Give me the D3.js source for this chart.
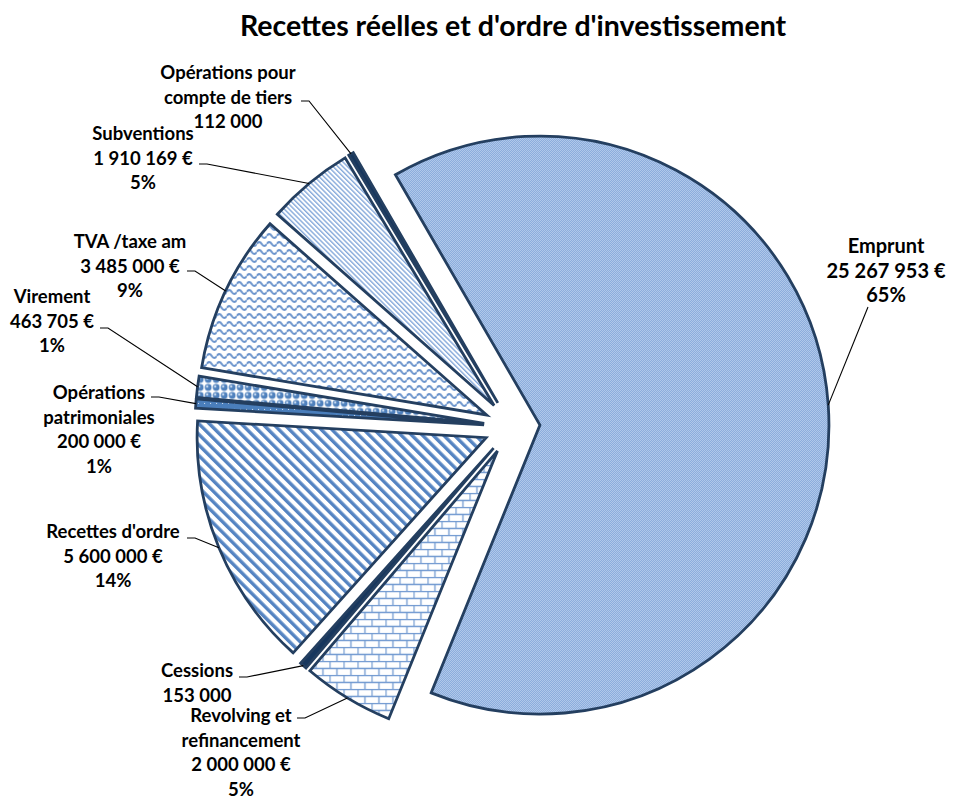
<!DOCTYPE html>
<html>
<head>
<meta charset="utf-8">
<title>Recettes réelles et d'ordre d'investissement</title>
<script src="https://d3js.org/d3.v7.min.js"></script>
<style>
  body { margin: 0; background: #fff; }
  text { font-family: Lato, "Open Sans", sans-serif; font-weight: bold; fill: #000; }
</style>
</head>
<body>
<svg id="chart" width="957" height="800"></svg>
<script>
// data
const categories = ["Emprunt", "Revolving et refinancement", "Cessions", "Recettes d'ordre",
  "Opérations patrimoniales", "Virement", "TVA /taxe am", "Subventions", "Opérations pour compte de tiers"];
const amounts = [25267953, 2000000, 153000, 5600000, 200000, 463705, 3485000, 1910169, 112000];
const labelLines = [
  ["Emprunt", "25 267 953 €", "65%"],
  ["Revolving et", "refinancement", "2 000 000 €", "5%"],
  ["Cessions", "153 000"],
  ["Recettes d'ordre", "5 600 000 €", "14%"],
  ["Opérations", "patrimoniales", "200 000 €", "1%"],
  ["Virement", "463 705 €", "1%"],
  ["TVA /taxe am", "3 485 000 €", "9%"],
  ["Subventions", "1 910 169 €", "5%"],
  ["Opérations pour", "compte de tiers", "112 000"]
];
const patterns = ["checker", "brick", "dark", "wide", "dotted", "spheres", "wave", "narrow", "dark"];

// label layout: text centre x, first baseline y, leader start point
const labelPos = [
  { x: 886, y: 253, lx: 868, ly: 307, dash: false },
  { x: 241, y: 722, lx: 297, ly: 718, dash: true },
  { x: 197, y: 677, lx: 239, ly: 677, dash: true },
  { x: 113, y: 538, lx: 187, ly: 538, dash: true },
  { x: 99,  y: 399, lx: 151, ly: 397, dash: true },
  { x: 52,  y: 303, lx: 100, ly: 328, dash: true },
  { x: 130, y: 248, lx: 187, ly: 271, dash: true },
  { x: 143, y: 140, lx: 199, ly: 164, dash: true },
  { x: 228, y: 79,  lx: 301, ly: 101, dash: true }
];

const svg = d3.select("#chart");
const cx = 512, cy = 427, radius = 289, explode = 28;
const edge = "#243F60", blue = "#4F81BD";

// fill patterns
const defs = svg.append("defs");
function pat(id, w, h, rot) {
  const p = defs.append("pattern").attr("id", id)
    .attr("patternUnits", "userSpaceOnUse").attr("width", w).attr("height", h);
  if (rot) p.attr("patternTransform", `rotate(${rot})`);
  return p;
}
let p = pat("checker", 2, 2);
p.append("rect").attr("width", 2).attr("height", 2).attr("fill", "#b6cdec");
p.append("rect").attr("width", 1).attr("height", 1).attr("fill", "#86a8da");
p.append("rect").attr("x", 1).attr("y", 1).attr("width", 1).attr("height", 1).attr("fill", "#86a8da");

p = pat("brick", 14, 14);
p.append("rect").attr("width", 14).attr("height", 14).attr("fill", "#fff");
p.append("path").attr("d", "M0,0.5H14M0,7.5H14M0.5,0V7M7.5,7V14")
  .attr("stroke", "#7099d0").attr("stroke-width", 1.3).attr("fill", "none");

p = pat("dark", 4, 4);
p.append("rect").attr("width", 4).attr("height", 4).attr("fill", "#17375E");

p = pat("wide", 7.5, 7.5, -45);
p.append("rect").attr("width", 7.5).attr("height", 7.5).attr("fill", "#fff");
p.append("rect").attr("width", 3.4).attr("height", 7.5).attr("fill", "#5584c2");

p = pat("narrow", 3.4, 3.4, -45);
p.append("rect").attr("width", 3.4).attr("height", 3.4).attr("fill", "#fff");
p.append("rect").attr("width", 1.4).attr("height", 3.4).attr("fill", "#86a9da");

p = pat("dotted", 6, 6);
p.append("rect").attr("width", 6).attr("height", 6).attr("fill", "#4a7ebb");
p.append("rect").attr("x", 2).attr("y", 2).attr("width", 1).attr("height", 1).attr("fill", "#dbe6f4");

p = pat("spheres", 8, 8);
p.append("rect").attr("width", 8).attr("height", 8).attr("fill", "#fff");
p.append("circle").attr("cx", 4).attr("cy", 4).attr("r", 3.4).attr("fill", blue);
p.append("circle").attr("cx", 3).attr("cy", 3).attr("r", 1.2).attr("fill", "#c6d9f1");

p = pat("wave", 10, 8);
p.append("rect").attr("width", 10).attr("height", 8).attr("fill", "#fff");
p.append("path").attr("d", "M0,5 Q2.5,1 5,5 T10,5")
  .attr("stroke", "#6a93cc").attr("stroke-width", 2).attr("fill", "none");

// title
svg.append("text").attr("x", 513).attr("y", 36).attr("text-anchor", "middle")
  .style("font-size", "28.5px").text("Recettes réelles et d'ordre d'investissement");

const pie = d3.pie().sort(null)
  .startAngle(-30 * Math.PI / 180)
  .endAngle(-30 * Math.PI / 180 + 2 * Math.PI);
const arcs = pie(amounts);
const arc = d3.arc().innerRadius(0).outerRadius(radius);

function offset(d) {
  const a = (d.startAngle + d.endAngle) / 2;
  return [explode * Math.sin(a), -explode * Math.cos(a)];
}

const g = svg.append("g").attr("transform", `translate(${cx},${cy})`);
g.selectAll("path.slice").data(arcs).join("path")
  .attr("class", "slice")
  .attr("transform", d => `translate(${offset(d)})`)
  .attr("d", arc)
  .attr("fill", (d, i) => `url(#${patterns[i]})`)
  .attr("stroke", edge).attr("stroke-width", 2.8).attr("stroke-linejoin", "miter");

// leader lines
arcs.forEach((d, i) => {
  const a = (d.startAngle + d.endAngle) / 2;
  const [ox, oy] = offset(d);
  const ex = cx + ox + radius * Math.sin(a);
  const ey = cy + oy - radius * Math.cos(a);
  const lp = labelPos[i];
  const pts = [[lp.lx, lp.ly]];
  if (lp.dash) pts.push([lp.lx + 8, lp.ly]);
  pts.push([ex, ey]);
  svg.append("path").attr("d", d3.line()(pts))
    .attr("fill", "none").attr("stroke", "#000").attr("stroke-width", 1.1);
});

// labels
labelLines.forEach((lines, i) => {
  const t = svg.append("text").attr("text-anchor", "middle")
    .style("font-size", i === 0 ? "20px" : "18.5px");
  lines.forEach((s, k) => {
    t.append("tspan").attr("x", labelPos[i].x).attr("y", labelPos[i].y + k * 24.7).text(s);
  });
});
</script>
</body>
</html>
